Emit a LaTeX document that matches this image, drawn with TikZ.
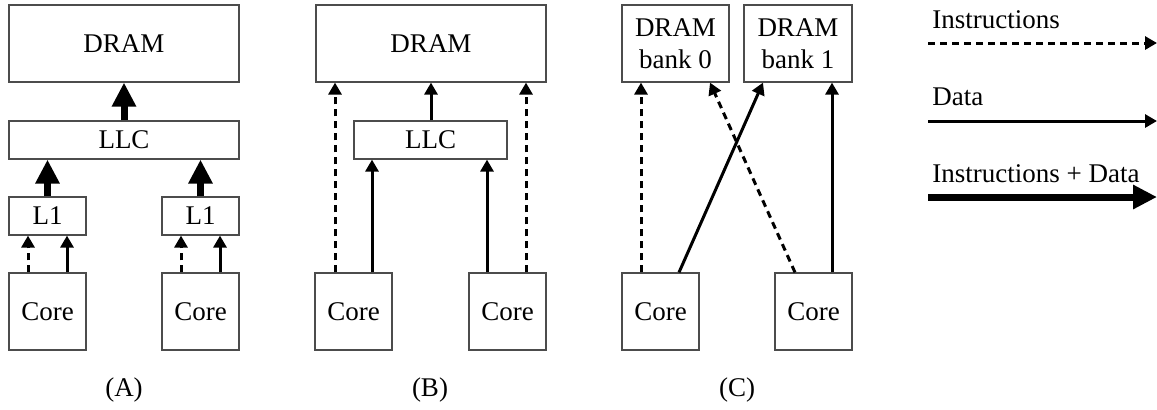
\documentclass[tikz,border=0pt]{standalone}
\usepackage{fontspec}
\setmainfont{Liberation Serif}
\usetikzlibrary{arrows.meta}
\begin{document}
\begin{tikzpicture}[x=0.5pt,y=-0.5pt,
  every node/.style={font=\fontsize{13.5}{16}\selectfont},
  box/.style={draw=black!70,line width=0.6pt,inner sep=0pt,align=center},
  instr/.style={line width=1.5pt,dash pattern=on 3.5pt off 2.5pt,-{Triangle[width=6.5pt,length=6pt]}},
  datal/.style={line width=1.5pt,-{Triangle[width=6.5pt,length=6pt]}},
  both/.style={line width=3.5pt,-{Triangle[width=11.5pt,length=12pt]}},
  lbl/.style={inner sep=0pt}]
\useasboundingbox (0,0) rectangle (1157,409);
% Panel A
\node[box,minimum width=115pt,minimum height=38.5pt] (dramA) at (124,43.5) {DRAM};
\node[box,minimum width=115pt,minimum height=19pt] (llcA) at (124,140) {LLC};
\node[box,minimum width=38.5pt,minimum height=19pt] (l1A1) at (47.5,216) {L1};
\node[box,minimum width=38.5pt,minimum height=19pt] (l1A2) at (200.5,216) {L1};
\node[box,minimum width=38.5pt,minimum height=38.5pt] (coreA1) at (47.5,311.5) {Core};
\node[box,minimum width=38.5pt,minimum height=38.5pt] (coreA2) at (200.5,311.5) {Core};
\draw[both] (llcA.north) -- (dramA.south);
\draw[both] (l1A1.north) -- (llcA.south -| l1A1.north);
\draw[both] (l1A2.north) -- (llcA.south -| l1A2.north);
\draw[instr] (coreA1.north -| 28,0) -- (l1A1.south -| 28,0);
\draw[datal] (coreA1.north -| 67,0) -- (l1A1.south -| 67,0);
\draw[instr] (coreA2.north -| 181,0) -- (l1A2.south -| 181,0);
\draw[datal] (coreA2.north -| 220,0) -- (l1A2.south -| 220,0);
\node[lbl] (labA) at (124,390) {(A)};
% Panel B
\node[box,minimum width=115pt,minimum height=38.5pt] (dramB) at (431,43.5) {DRAM};
\node[box,minimum width=76.5pt,minimum height=19pt] (llcB) at (430.5,140) {LLC};
\node[box,minimum width=38.5pt,minimum height=38.5pt] (coreB1) at (353.5,311.5) {Core};
\node[box,minimum width=38.5pt,minimum height=38.5pt] (coreB2) at (507.5,311.5) {Core};
\draw[datal] (llcB.north -| 431,0) -- (dramB.south -| 431,0);
\draw[instr] (coreB1.north -| 335,0) -- (dramB.south -| 335,0);
\draw[datal] (coreB1.north -| 372,0) -- (llcB.south -| 372,0);
\draw[datal] (coreB2.north -| 487,0) -- (llcB.south -| 487,0);
\draw[instr] (coreB2.north -| 526,0) -- (dramB.south -| 526,0);
\node[lbl] (labB) at (430,390) {(B)};
% Panel C
\node[box,minimum width=53.5pt,minimum height=38.5pt] (bank0) at (675.5,43.5) {DRAM\\bank 0};
\node[box,minimum width=54pt,minimum height=38.5pt] (bank1) at (798,43.5) {DRAM\\bank 1};
\node[box,minimum width=38.5pt,minimum height=38.5pt] (coreC1) at (660.5,311.5) {Core};
\node[box,minimum width=38.5pt,minimum height=38.5pt] (coreC2) at (813.5,311.5) {Core};
\draw[instr] (coreC1.north -| 641,0) -- (bank0.south -| 641,0);
\draw[datal] (coreC1.north -| 679,0) -- (bank1.south -| 763,0);
\draw[instr] (coreC2.north -| 795,0) -- (bank0.south -| 710,0);
\draw[datal] (coreC2.north -| 832,0) -- (bank1.south -| 832,0);
\node[lbl] (labC) at (737,390) {(C)};
% Legend
\node[lbl,anchor=base west] (tI) at (932,28) {Instructions};
\node[lbl,anchor=base west] (tD) at (932,105) {Data};
\node[lbl,anchor=base west] (tB) at (932,182) {Instructions + Data};
\coordinate (iS) at (928,43); \coordinate (iE) at (1157,43);
\coordinate (dS) at (928,121); \coordinate (dE) at (1157,121);
\coordinate (bS) at (928,197); \coordinate (bE) at (1157,197);
\draw[instr] (iS) -- (iE);
\draw[datal] (dS) -- (dE);
\draw[both] (bS) -- (bE);
\end{tikzpicture}
\end{document}
